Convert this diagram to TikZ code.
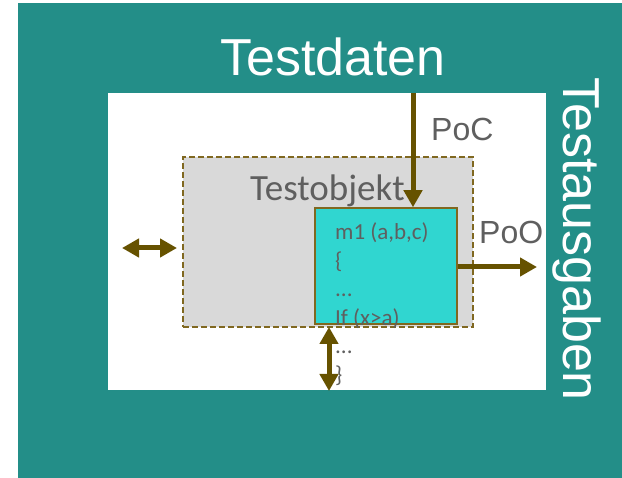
\documentclass[tikz,border=0pt]{standalone}
\usepackage{fontspec}
\setmainfont{Liberation Sans}
\newfontfamily\calib{Carlito}
\usetikzlibrary{arrows.meta}
\definecolor{tealbg}{RGB}{35,142,136}
\definecolor{cyanbox}{RGB}{48,214,208}
\definecolor{grayfill}{RGB}{217,217,217}
\definecolor{brownarr}{RGB}{102,82,0}
\definecolor{brownline}{RGB}{128,104,32}
\definecolor{txtgray}{RGB}{95,95,95}
\tikzset{
  pxx/.style={x=1pt,y=-1pt},
  bigarrow/.style={draw=brownarr,line width=5pt,-{Triangle[length=17pt,width=18pt]}},
  bigdarrow/.style={draw=brownarr,line width=5pt,{Triangle[length=17pt,width=18pt]}-{Triangle[length=17pt,width=18pt]}},
  codeline/.style={anchor=base west,inner sep=0pt,font=\calib\fontsize{23pt}{27pt}\selectfont,text=txtgray},
  biglabel/.style={text=white,inner sep=0pt,font=\fontsize{52pt}{60pt}\selectfont},
  portlabel/.style={text=txtgray,inner sep=0pt,anchor=base west,font=\fontsize{32pt}{38pt}\selectfont}
}
\begin{document}
\begin{tikzpicture}[pxx]
\useasboundingbox (0,0) rectangle (622,478);
\fill[tealbg] (18,3) rectangle (622,478);
\node[fill=white,draw=none,inner sep=0pt,minimum width=438pt,minimum height=297pt] (ws) at (327,241.5) {};
\node[fill=grayfill,draw=brownline,line width=1.5pt,dash pattern=on 6pt off 3pt,inner sep=0pt,minimum width=290pt,minimum height=170pt] (obj) at (328,242) {};
\node[fill=cyanbox,draw=brownline,line width=1.5pt,inner sep=0pt,minimum width=142pt,minimum height=116pt] (m1) at (386,266) {};
\node[text=txtgray,inner sep=0pt,anchor=base west,font=\calib\fontsize{37pt}{40pt}\selectfont] (tobj) at (250,201) {Testobjekt};
\node[biglabel,anchor=base] (td) at (333,76) {Testdaten};
\node[biglabel,anchor=base,rotate=-90] (ta) at (563,239) {Testausgaben};
\node[portlabel] (poc) at (431,141) {PoC};
\node[portlabel] (poo) at (479,244) {PoO};
\node[codeline] (c1) at (335,240) {m1 (a,b,c)};
\node[codeline] (c2) at (335,268.5) {\{};
\node[codeline] (c3) at (335,297) {...};
\node[codeline] (c4) at (335,325.5) {If (x>a)};
\node[codeline] (c5) at (335,354) {...};
\node[codeline] (c6) at (335,382.5) {\}};
\coordinate (pocstart) at (413,93);
\coordinate (pooend) at (537,267);
\coordinate (lA) at (122,248);
\coordinate (lB) at (177,248);
\coordinate (bA) at (329,327);
\coordinate (bB) at (329,391);
\draw[bigarrow] (pocstart) -- (pocstart |- m1.north);
\draw[bigarrow] (m1.east |- pooend) -- (pooend);
\draw[bigdarrow] (lA) -- (lB);
\draw[bigdarrow] (bA) -- (bB);
\end{tikzpicture}
\end{document}
